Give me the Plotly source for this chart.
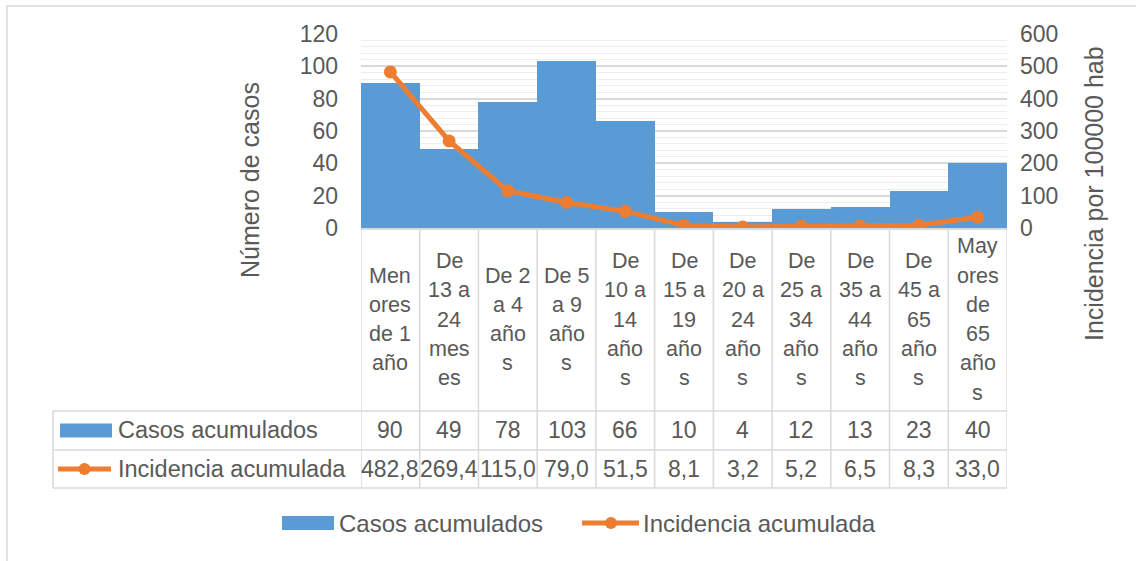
import plotly.graph_objects as go

# ---------------- data ----------------
categories = ["Menores de 1 año", "De 13 a 24 meses", "De 2 a 4 años", "De 5 a 9 años",
              "De 10 a 14 años", "De 15 a 19 años", "De 20 a 24 años", "De 25 a 34 años",
              "De 35 a 44 años", "De 45 a 65 años", "Mayores de 65 años"]
category_lines = [["Men", "ores", "de 1", "año"], ["De", "13 a", "24", "mes", "es"],
                  ["De 2", "a 4", "año", "s"], ["De 5", "a 9", "año", "s"],
                  ["De", "10 a", "14", "año", "s"], ["De", "15 a", "19", "año", "s"],
                  ["De", "20 a", "24", "año", "s"], ["De", "25 a", "34", "año", "s"],
                  ["De", "35 a", "44", "año", "s"], ["De", "45 a", "65", "año", "s"],
                  ["May", "ores", "de", "65", "año", "s"]]
casos = [90, 49, 78, 103, 66, 10, 4, 12, 13, 23, 40]
incidencia = [482.8, 269.4, 115.0, 79.0, 51.5, 8.1, 3.2, 5.2, 6.5, 8.3, 33.0]
series_names = ["Casos acumulados", "Incidencia acumulada"]
y_title = "Número de casos"
y2_title = "Incidencia por 100000 hab"

# ---------------- layout constants ----------------
W, H = 1136, 561
PL, PR, PT, PB = 361, 1007, 34, 228  # plot area in pixels
BLUE = "#5b9bd5"
ORANGE = "#ed7d31"
GRID = "#d9d9d9"
MINOR = "#ededed"
TXT = "#595959"
FONT = "Liberation Sans"


def px(X):
    return (X - PL) / (PR - PL)


def py(Y):
    return (PB - Y) / (PB - PT)


n = len(categories)
xs = list(range(n))

fig = go.Figure()
fig.add_trace(go.Bar(x=xs, y=casos, name=series_names[0], marker=dict(color=BLUE, line=dict(width=0)),
                     width=1.0, yaxis="y", customdata=categories))
fig.add_trace(go.Scatter(x=xs, y=incidencia, name=series_names[1], mode="lines+markers",
                         line=dict(color=ORANGE, width=5), marker=dict(color=ORANGE, size=13),
                         yaxis="y2", customdata=categories))

shapes = []
annotations = []
line_style = dict(color=GRID, width=1.5)

# table: header columns (vertical borders)
hdr_bottom, row1_bottom, row2_bottom = 411, 450, 488
for i in range(n + 1):
    shapes.append(dict(type="line", xref="x", yref="paper", x0=i - 0.5, x1=i - 0.5,
                       y0=py(PB), y1=py(row2_bottom), line=line_style, layer="below"))
# left border of row labels
shapes.append(dict(type="line", xref="paper", yref="paper", x0=px(53), x1=px(53),
                   y0=py(hdr_bottom), y1=py(row2_bottom), line=line_style))
for Y in (hdr_bottom, row1_bottom, row2_bottom):
    shapes.append(dict(type="line", xref="paper", yref="paper", x0=px(53), x1=px(PR),
                       y0=py(Y), y1=py(Y), line=line_style))

# category labels (wrapped like Excel)
LINE_H = 29.3
cell_mid = (PB + hdr_bottom) / 2
for i, lines in enumerate(category_lines):
    k = len(lines)
    for j, t in enumerate(lines):
        Y = cell_mid + (j - (k - 1) / 2) * LINE_H
        annotations.append(dict(x=i, y=py(Y), xref="x", yref="paper", text=t, showarrow=False,
                                font=dict(family=FONT, size=21.5, color=TXT),
                                xanchor="center", yanchor="middle"))

# values rows
r1 = (hdr_bottom + row1_bottom) / 2
r2 = (row1_bottom + row2_bottom) / 2
for i in range(n):
    annotations.append(dict(x=i, y=py(r1), xref="x", yref="paper", text=str(casos[i]),
                            showarrow=False, font=dict(family=FONT, size=23, color=TXT),
                            xanchor="center", yanchor="middle"))
    annotations.append(dict(x=i, y=py(r2), xref="x", yref="paper",
                            text=f"{incidencia[i]:.1f}".replace(".", ","),
                            showarrow=False, font=dict(family=FONT, size=23, color=TXT),
                            xanchor="center", yanchor="middle"))

# row labels with keys
shapes.append(dict(type="rect", xref="paper", yref="paper", x0=px(60), x1=px(112),
                   y0=py(r1 + 7), y1=py(r1 - 7), fillcolor=BLUE, line=dict(width=0)))
annotations.append(dict(x=px(116), y=py(r1), xref="paper", yref="paper", text=series_names[0],
                        showarrow=False, font=dict(family=FONT, size=23.5, color=TXT),
                        xanchor="left", yanchor="middle"))
shapes.append(dict(type="line", xref="paper", yref="paper", x0=px(58), x1=px(111),
                   y0=py(r2), y1=py(r2), line=dict(color=ORANGE, width=5)))
shapes.append(dict(type="circle", xref="paper", yref="paper", x0=px(78.5), x1=px(90.5),
                   y0=py(r2 + 6), y1=py(r2 - 6), fillcolor=ORANGE, line=dict(width=0)))
annotations.append(dict(x=px(116), y=py(r2), xref="paper", yref="paper", text=series_names[1],
                        showarrow=False, font=dict(family=FONT, size=23.5, color=TXT),
                        xanchor="left", yanchor="middle"))

# bottom legend
LY = 523
shapes.append(dict(type="rect", xref="paper", yref="paper", x0=px(282), x1=px(334),
                   y0=py(LY + 7), y1=py(LY - 7), fillcolor=BLUE, line=dict(width=0)))
annotations.append(dict(x=px(337), y=py(LY), xref="paper", yref="paper", text=series_names[0],
                        showarrow=False, font=dict(family=FONT, size=24, color=TXT),
                        xanchor="left", yanchor="middle"))
shapes.append(dict(type="line", xref="paper", yref="paper", x0=px(582), x1=px(639),
                   y0=py(LY), y1=py(LY), line=dict(color=ORANGE, width=5)))
shapes.append(dict(type="circle", xref="paper", yref="paper", x0=px(605), x1=px(617),
                   y0=py(LY + 6), y1=py(LY - 6), fillcolor=ORANGE, line=dict(width=0)))
annotations.append(dict(x=px(641), y=py(LY), xref="paper", yref="paper", text=series_names[1],
                        showarrow=False, font=dict(family=FONT, size=24, color=TXT),
                        xanchor="left", yanchor="middle"))

# axis titles
annotations.append(dict(x=px(250), y=py(180), xref="paper", yref="paper", text=y_title,
                        showarrow=False, textangle=-90, font=dict(family=FONT, size=25, color=TXT),
                        xanchor="center", yanchor="middle"))
annotations.append(dict(x=px(1094), y=py(194), xref="paper", yref="paper", text=y2_title,
                        showarrow=False, textangle=-90, font=dict(family=FONT, size=25, color=TXT),
                        xanchor="center", yanchor="middle"))

# chart frame (partially visible)
shapes.append(dict(type="rect", xref="paper", yref="paper", x0=px(7), x1=px(W + 20),
                   y0=py(H + 20), y1=py(6), line=dict(color=GRID, width=1.5), layer="below"))

fig.update_layout(
    width=W, height=H, autosize=False,
    margin=dict(l=PL, r=W - PR, t=PT, b=H - PB, pad=0),
    paper_bgcolor="white", plot_bgcolor="white",
    showlegend=False, bargap=0,
    font=dict(family=FONT, size=23, color=TXT),
    xaxis=dict(range=[-0.5, n - 0.5], showticklabels=False, ticks="", showgrid=False,
               zeroline=False, showline=True, linecolor=GRID, linewidth=1.5),
    yaxis=dict(range=[0, 120], dtick=20, tick0=0, showgrid=True, gridcolor=GRID, gridwidth=1.5,
               minor=dict(dtick=4, showgrid=True, gridcolor=MINOR, gridwidth=1),
               zeroline=False, showline=False, ticks="", ticklabelstandoff=22,
               tickfont=dict(family=FONT, size=23, color=TXT)),
    yaxis2=dict(range=[0, 600], dtick=100, tick0=0, overlaying="y", side="right",
                showgrid=False, zeroline=False, showline=False, ticks="", ticklabelstandoff=12,
                tickfont=dict(family=FONT, size=23, color=TXT)),
    shapes=shapes, annotations=annotations,
)

fig.write_html("out.html", config={"displayModeBar": False},
               post_script="document.body.style.margin='0px';document.body.style.overflow='hidden';")
